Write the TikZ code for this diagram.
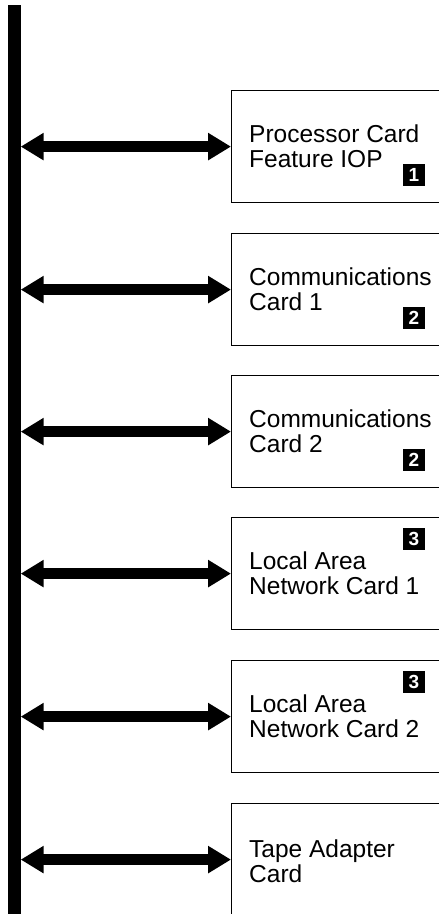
\documentclass[tikz,border=0pt]{standalone}
\usepackage{fontspec}
\setmainfont{Liberation Sans}
\usetikzlibrary{positioning,arrows.meta}

\begin{document}
\begin{tikzpicture}[x=1pt, y=-1pt,
    cardnode/.style={draw=black, line width=1.2pt, minimum width=240pt, minimum height=112pt, inner sep=0pt, anchor=north west},
    busnode/.style={fill=black, minimum width=13pt, minimum height=930pt, inner sep=0pt, anchor=north},
    labelnode/.style={anchor=base west, inner sep=0pt, align=left, font=\fontsize{24.5}{25}\selectfont},
    tagnode/.style={fill=black, text=white, minimum size=22pt, inner sep=0pt, font=\fontsize{19}{19}\selectfont\bfseries},
    busarrow/.style={line width=11pt, {Triangle[length=23pt,width=26pt]}-{Triangle[length=23pt,width=26pt]}}
    ]
        \clip (0,0) rectangle (439,914);

        %Nodes
        \node[busnode] (bus) at (14,5) {};

        \node[cardnode] (card1) at (231,90)  {};
        \node[cardnode] (card2) at (231,233) {};
        \node[cardnode] (card3) at (231,375) {};
        \node[cardnode] (card4) at (231,517) {};
        \node[cardnode] (card5) at (231,660) {};
        \node[cardnode] (card6) at (231,803) {};

        %Texts (anchored at the baseline of the last line)
        \node[labelnode] (text1) at (249,167) {Processor Card\\Feature IOP};
        \node[labelnode] (text2) at (249,310) {Communications\\Card 1};
        \node[labelnode] (text3) at (249,452) {Communications\\Card 2};
        \node[labelnode] (text4) at (249,594) {Local Area\\Network Card 1};
        \node[labelnode] (text5) at (249,737) {Local Area\\Network Card 2};
        \node[labelnode] (text6) at (249,882) {Tape Adapter\\Card};

        \node[tagnode] (tag1) at (414,175) {1};
        \node[tagnode] (tag2) at (414,318) {2};
        \node[tagnode] (tag3) at (414,460) {2};
        \node[tagnode] (tag4) at (414,539) {3};
        \node[tagnode] (tag5) at (414,682) {3};

        %Lines
        \draw[busarrow] (bus.east |- card1.west) -- (card1.west);
        \draw[busarrow] (bus.east |- card2.west) -- (card2.west);
        \draw[busarrow] (bus.east |- card3.west) -- (card3.west);
        \draw[busarrow] (bus.east |- card4.west) -- (card4.west);
        \draw[busarrow] (bus.east |- card5.west) -- (card5.west);
        \draw[busarrow] (bus.east |- card6.west) -- (card6.west);
\end{tikzpicture}
\end{document}
